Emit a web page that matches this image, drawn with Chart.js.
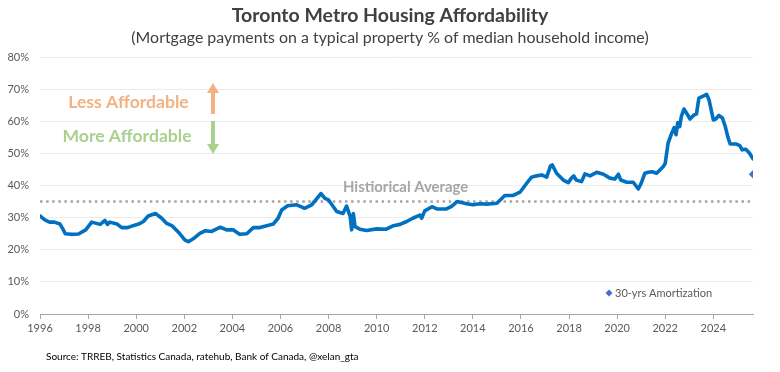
<!DOCTYPE html>
<html>
<head>
<meta charset="utf-8">
<script src="https://cdn.jsdelivr.net/npm/chart.js@4"></script>
<style>
html,body{margin:0;padding:0;background:#fff;}
#wrap{width:780px;height:372px;}
</style>
</head>
<body>
<div id="wrap"><canvas id="c" width="780" height="372"></canvas></div>
<script>
// ---- data ----
const years = [1996.00,1996.2,1996.4,1996.6,1996.83,1996.95,1997.05,1997.3,1997.6,1997.9,
1998.15,1998.5,1998.7,1998.8,1998.9,1999.2,1999.4,1999.65,1999.87,2000.1,
2000.3,2000.5,2000.8,2001.06,2001.27,2001.5,2001.8,2002.03,2002.17,2002.37,
2002.65,2002.86,2003.14,2003.35,2003.5,2003.76,2004.03,2004.3,2004.6,2004.87,
2005.15,2005.43,2005.7,2005.9,2006.05,2006.3,2006.67,2006.85,2007.0,2007.3,
2007.5,2007.68,2007.85,2008.0,2008.2,2008.34,2008.6,2008.75,2008.9,2008.96,
2009.03,2009.1,2009.3,2009.58,2010.0,2010.4,2010.7,2010.97,2011.25,2011.5,
2011.8,2011.87,2012.0,2012.3,2012.5,2012.9,2013.1,2013.35,2013.74,2014.0,
2014.3,2014.57,2015.0,2015.33,2015.68,2015.96,2016.24,2016.44,2016.65,2016.86,
2017.07,2017.23,2017.3,2017.48,2017.76,2017.97,2018.1,2018.2,2018.3,2018.52,
2018.66,2018.87,2019.15,2019.43,2019.7,2019.9,2020.05,2020.15,2020.4,2020.67,
2020.88,2021.0,2021.15,2021.3,2021.45,2021.64,2021.8,2021.92,2022.0,2022.12,
2022.27,2022.37,2022.45,2022.52,2022.6,2022.67,2022.78,2022.89,2023.03,2023.17,
2023.3,2023.4,2023.6,2023.72,2023.82,2024.0,2024.1,2024.23,2024.38,2024.5,
2024.6,2024.7,2024.96,2025.1,2025.2,2025.35,2025.5,2025.65];
const affordability = [30.5,29.3,28.6,28.6,28.0,26.5,25.0,24.8,24.9,26.2,
28.6,27.9,29.1,27.9,28.6,28.0,26.9,26.9,27.5,28.0,
28.8,30.5,31.3,29.8,28.2,27.4,25.1,23.0,22.5,23.4,
25.1,25.9,25.7,26.5,27.0,26.2,26.2,24.8,25.0,26.9,
26.9,27.5,28.0,29.8,32.4,33.7,34.0,33.4,32.9,34.0,
35.8,37.5,36.0,35.5,33.4,31.9,31.3,33.6,30.3,26.2,
31.3,27.2,26.4,26.0,26.5,26.4,27.5,27.9,28.8,29.8,
30.8,29.8,32.1,33.4,32.7,32.7,33.4,35.0,34.3,34.0,
34.3,34.2,34.5,36.9,36.9,37.9,40.7,42.6,43.0,43.3,
42.6,46.1,46.4,43.8,41.7,40.9,42.3,43.0,41.7,41.2,
43.6,43.0,44.1,43.5,42.3,42.0,43.5,41.7,41.0,41.0,
38.9,40.7,43.8,44.1,44.3,43.8,45.0,45.9,46.9,53.2,
56.3,58.0,55.8,59.6,58.3,61.5,63.8,62.5,60.7,61.8,
62.3,67.2,67.9,68.4,66.7,60.4,60.7,61.8,61.0,58.3,
55.2,52.9,52.9,52.4,51.1,51.3,50.1,48.3];
const historicalAverage = 35;
const amortYear = [2025.65];
const amortValue = [43.5];
const xStart = 1996, xEnd = 2025.65;
const yTicks = [0,10,20,30,40,50,60,70,80];
const titleText = "Toronto Metro Housing Affordability";
const subtitleText = "(Mortgage payments on a typical property % of median household income)";
const sourceText = "Source: TRREB, Statistics Canada, ratehub, Bank of Canada, @xelan_gta";

const FONT = "Lato, 'Open Sans', sans-serif";

const mainPts = years.map((x,i)=>({x:x,y:affordability[i]}));
const avgPts = [{x:xStart,y:historicalAverage},{x:xEnd,y:historicalAverage}];
const amortPts = amortYear.map((x,i)=>({x:x,y:amortValue[i]}));

function arrow(ctx, x, y0, y1, color){
  const dir = y1 < y0 ? -1 : 1;
  const head = 10;
  ctx.save();
  ctx.strokeStyle = color; ctx.fillStyle = color; ctx.lineWidth = 4;
  ctx.beginPath(); ctx.moveTo(x, y0); ctx.lineTo(x, y1 - dir*head); ctx.stroke();
  ctx.beginPath(); ctx.moveTo(x, y1); ctx.lineTo(x-6, y1 - dir*head); ctx.lineTo(x+6, y1 - dir*head); ctx.closePath(); ctx.fill();
  ctx.restore();
}

const deco = {
  id:'deco',
  afterDraw(chart){
    const ctx = chart.ctx;
    ctx.save();
    ctx.textBaseline = 'middle';
    ctx.textAlign = 'center';
    ctx.fillStyle = '#404040';
    ctx.font = "bold 19.5px " + FONT;
    ctx.fillText(titleText, 390, 16);
    ctx.fillStyle = '#404040';
    ctx.font = "15.9px " + FONT;
    ctx.fillText(subtitleText, 390, 38);
    // annotations
    ctx.font = "bold 17.6px " + FONT;
    ctx.fillStyle = '#F4B183';
    ctx.fillText("Less Affordable", 128.5, 102);
    ctx.fillStyle = '#A9D18E';
    ctx.fillText("More Affordable", 127, 136);
    arrow(ctx, 213, 114, 83, '#F4B183');
    arrow(ctx, 213, 121, 154, '#A9D18E');
    ctx.textAlign = 'left';
    ctx.fillStyle = '#A6A6A6';
    ctx.font = "bold 14.9px " + FONT;
    ctx.fillText("Histiorical Average", 343, 187);
    // legend
    const lx = 609, ly = 293;
    ctx.fillStyle = '#4472C4';
    ctx.beginPath(); ctx.moveTo(lx, ly-3.5); ctx.lineTo(lx+3.5, ly); ctx.lineTo(lx, ly+3.5); ctx.lineTo(lx-3.5, ly); ctx.closePath(); ctx.fill();
    ctx.fillStyle = '#595959';
    ctx.font = "11px " + FONT;
    ctx.fillText("30-yrs Amortization", 615, 293);
    // source
    ctx.fillStyle = '#000000';
    ctx.font = "10px " + FONT;
    ctx.fillText(sourceText, 46, 357);
    ctx.restore();
  }
};

new Chart(document.getElementById('c'), {
  type:'line',
  data:{
    datasets:[
      {data:mainPts, borderColor:'#0070C0', borderWidth:3.6, pointRadius:0, tension:0, fill:false, borderJoinStyle:'round', borderCapStyle:'round'},
      {data:avgPts, borderColor:'#A6A6A6', borderWidth:2.5, borderDash:[2.5,3.6], pointRadius:0, fill:false},
      {type:'scatter', data:amortPts, pointStyle:'rectRot', pointRadius:4.2, backgroundColor:'#4472C4', borderColor:'#4472C4', borderWidth:0}
    ]
  },
  options:{
    responsive:false, animation:false,
    layout:{padding:{top:57,right:27,left:0,bottom:0}},
    plugins:{legend:{display:false}, tooltip:{enabled:false}, title:{display:false}},
    scales:{
      x:{type:'linear', min:xStart, max:xEnd,
        afterFit(s){ s.height = 58; },
        grid:{drawOnChartArea:false, drawTicks:true, tickLength:5, color:'#A6A6A6'},
        border:{color:'#A6A6A6', width:1},
        ticks:{stepSize:2, includeBounds:false, color:'#595959', font:{family:FONT, size:11}, padding:3, maxRotation:0,
          callback:(v)=>String(v)}
      },
      y:{min:0, max:80,
        afterFit(s){ s.width = 40; },
        afterBuildTicks(s){ s.ticks = yTicks.map(v=>({value:v})); },
        grid:{color:'#EBEBEB', drawTicks:false},
        border:{display:false},
        ticks:{color:'#595959', font:{family:FONT, size:11}, padding:11, callback:(v)=>v+'%'}
      }
    }
  },
  plugins:[deco]
});
</script>
</body>
</html>
